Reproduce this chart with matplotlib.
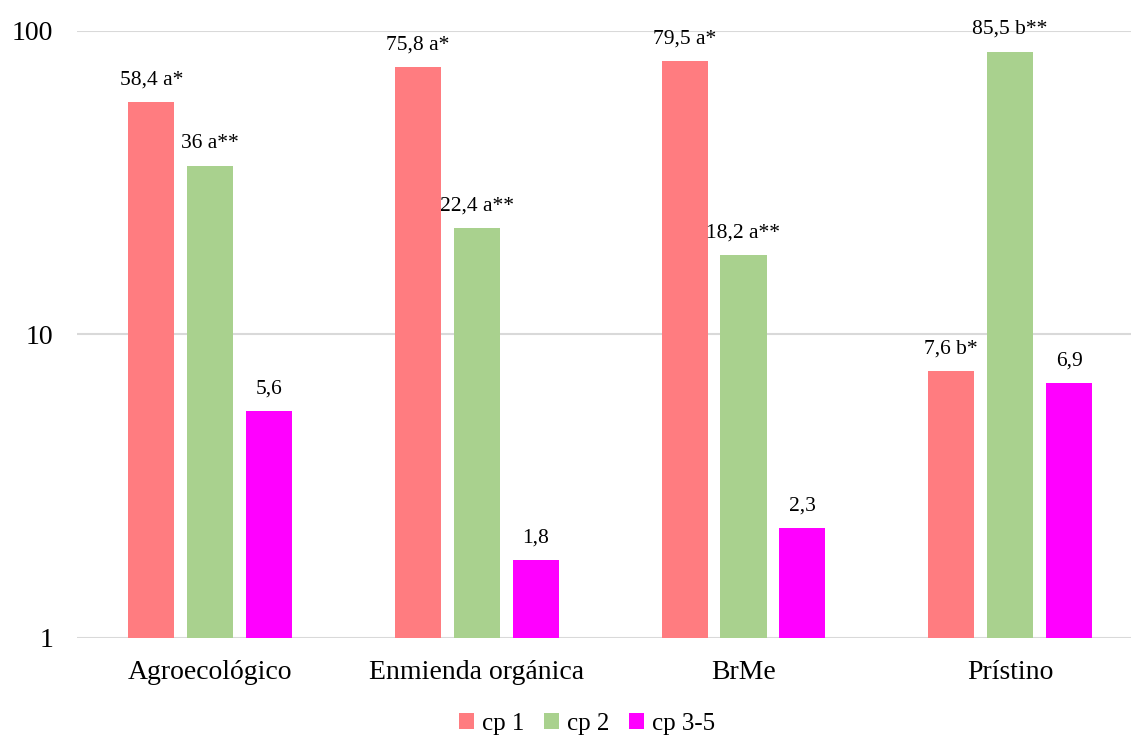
import numpy as np
import matplotlib
matplotlib.use("Agg")
import matplotlib.pyplot as plt

plt.rcParams["font.family"] = ["Liberation Serif", "DejaVu Serif"]

categories = ["Agroecológico", "Enmienda orgánica", "BrMe", "Prístino"]
series_names = ["cp 1", "cp 2", "cp 3-5"]
cp1 = [58.4, 75.8, 79.5, 7.6]
cp2 = [36, 22.4, 18.2, 85.5]
cp35 = [5.6, 1.8, 2.3, 6.9]
cp1_labels = ["58,4 a*", "75,8 a*", "79,5 a*", "7,6 b*"]
cp2_labels = ["36 a**", "22,4 a**", "18,2 a**", "85,5 b**"]
cp35_labels = ["5,6", "1,8", "2,3", "6,9"]
colors = ["#FF7C80", "#A9D18E", "#FF00FF"]

fig = plt.figure(figsize=(11.31, 7.35), dpi=100)
# axes run a little past the right edge, like the original export
ax = fig.add_axes([0.068, 0.132, 0.943, 0.826])

x = np.arange(len(categories))
width = 0.173
offset = 0.221

all_vals = [cp1, cp2, cp35]
all_labels = [cp1_labels, cp2_labels, cp35_labels]
for i, (vals, labs) in enumerate(zip(all_vals, all_labels)):
    pos = x + (i - 1) * offset
    ax.bar(pos, vals, width=width, color=colors[i], label=series_names[i], zorder=3)
    for p, v, t in zip(pos, vals, labs):
        ax.annotate(t, (p, v), xytext=(0, 9), textcoords="offset points",
                    ha="center", va="bottom", fontsize=15.5)

ax.set_yscale("log")
ax.set_ylim(1, 100)
ax.set_xlim(-0.5, len(categories) - 0.5)
ax.set_yticks([1, 10, 100])
ax.set_yticklabels(["1", "10", "100"])
ax.minorticks_off()
ax.yaxis.grid(True, color="#D9D9D9", linewidth=1.5, zorder=0)
ax.set_axisbelow(True)
ax.set_xticks(x)
ax.set_xticklabels(categories)
ax.tick_params(axis="both", length=0, labelsize=20)
ax.tick_params(axis="y", pad=17)
ax.tick_params(axis="x", pad=16)
for s in ax.spines.values():
    s.set_visible(False)

fig.legend(loc="lower center", ncol=3, frameon=False, fontsize=18,
           bbox_to_anchor=(0.519, -0.03), handlelength=0.6, handleheight=0.6,
           columnspacing=0.8, handletextpad=0.3)

fig.savefig("out.png", dpi=100)
